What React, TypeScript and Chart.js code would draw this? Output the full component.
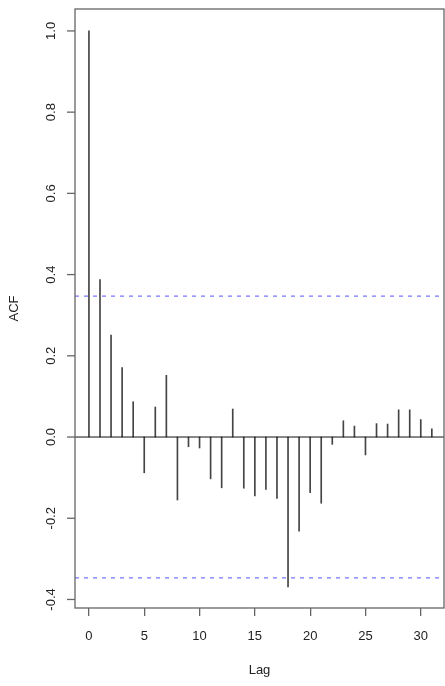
import React, { useEffect, useRef } from "react";
import { Chart, registerables } from "chart.js";

Chart.register(...registerables);

// Autocorrelation at each lag
const lags: number[] = [
  0, 1, 2, 3, 4, 5, 6, 7, 8, 9, 10, 11, 12, 13, 14, 15,
  16, 17, 18, 19, 20, 21, 22, 23, 24, 25, 26, 27, 28, 29, 30, 31,
];
const acf: number[] = [
  1.0, 0.388, 0.251, 0.171, 0.087, -0.088, 0.074, 0.152,
  -0.155, -0.024, -0.027, -0.103, -0.125, 0.069, -0.126, -0.145,
  -0.129, -0.151, -0.369, -0.232, -0.137, -0.163, -0.018, 0.04,
  0.027, -0.044, 0.033, 0.032, 0.067, 0.067, 0.043, 0.02,
];
// 95% confidence bound
const ciBound = 0.347;

const xTicks: number[] = [0, 5, 10, 15, 20, 25, 30];
const yTicks: number[] = [-0.4, -0.2, 0.0, 0.2, 0.4, 0.6, 0.8, 1.0];

const X_MIN = -1.26;
const X_MAX = 32.1;
const Y_MIN = -0.421;
const Y_MAX = 1.054;

const FONT = "'Liberation Sans', Arial, Helvetica, sans-serif";

const boxAndLabels = {
  id: "boxAndLabels",
  afterDraw(chart: any) {
    const { ctx, chartArea, scales } = chart;
    ctx.save();
    ctx.strokeStyle = "#666";
    ctx.lineWidth = 1.3;
    ctx.strokeRect(
      chartArea.left,
      chartArea.top,
      chartArea.right - chartArea.left,
      chartArea.bottom - chartArea.top
    );
    // tick marks and vertical tick labels on the ACF axis
    const y = scales.y;
    ctx.fillStyle = "#222";
    ctx.font = `13px ${FONT}`;
    ctx.textAlign = "center";
    ctx.textBaseline = "middle";
    for (const v of yTicks) {
      const py = y.getPixelForValue(v);
      ctx.beginPath();
      ctx.moveTo(chartArea.left - 8, py);
      ctx.lineTo(chartArea.left, py);
      ctx.stroke();
      ctx.save();
      ctx.translate(51, py);
      ctx.rotate(-Math.PI / 2);
      ctx.fillText(v.toFixed(1), 0, 0);
      ctx.restore();
    }
    ctx.restore();
  },
};

export default function App() {
  const canvasRef = useRef<HTMLCanvasElement | null>(null);

  useEffect(() => {
    if (!canvasRef.current) return;
    const hline = (v: number) => [
      { x: X_MIN, y: v },
      { x: X_MAX, y: v },
    ];
    const chart = new Chart(canvasRef.current, {
      type: "bar",
      data: {
        datasets: [
          {
            type: "bar",
            data: lags.map((l, i) => ({ x: l, y: acf[i] })),
            backgroundColor: "#444",
            borderWidth: 0,
            barThickness: 1,
            order: 2,
          } as any,
          {
            type: "line",
            data: hline(0),
            borderColor: "#111",
            borderWidth: 1,
            pointRadius: 0,
            order: 1,
          } as any,
          {
            type: "line",
            data: hline(ciBound),
            borderColor: "rgba(60,60,255,0.7)",
            borderWidth: 1.2,
            borderDash: [4, 5],
            pointRadius: 0,
            order: 1,
          } as any,
          {
            type: "line",
            data: hline(-ciBound),
            borderColor: "rgba(60,60,255,0.7)",
            borderWidth: 1.2,
            borderDash: [4, 5],
            pointRadius: 0,
            order: 1,
          } as any,
        ],
      },
      options: {
        responsive: false,
        animation: false,
        layout: { padding: { left: 0, top: 9, right: 1, bottom: 0 } },
        plugins: {
          legend: { display: false },
          tooltip: { enabled: false },
        },
        scales: {
          x: {
            type: "linear",
            min: X_MIN,
            max: X_MAX,
            offset: false,
            afterBuildTicks: (s: any) => {
              s.ticks = xTicks.map((v) => ({ value: v }));
            },
            afterFit: (s: any) => {
              s.height = 78;
            },
            grid: {
              offset: false,
              drawOnChartArea: false,
              drawTicks: true,
              tickLength: 8,
              color: "#666",
              lineWidth: 1.3,
            },
            border: { display: false },
            ticks: {
              color: "#222",
              font: { family: FONT, size: 13 },
              padding: 13,
              maxRotation: 0,
              autoSkip: false,
              callback: (v: any) => String(v),
            },
            title: {
              display: true,
              text: "Lag",
              color: "#222",
              font: { family: FONT, size: 13 },
              padding: { top: 0, bottom: 8 },
            },
          },
          y: {
            type: "linear",
            min: Y_MIN,
            max: Y_MAX,
            afterBuildTicks: (s: any) => {
              s.ticks = yTicks.map((v) => ({ value: v }));
            },
            afterFit: (s: any) => {
              s.width = 75;
            },
            grid: { display: false },
            border: { display: false },
            ticks: { display: false },
            title: {
              display: true,
              text: "ACF",
              color: "#222",
              font: { family: FONT, size: 13 },
              padding: { top: 7, bottom: 0 },
            },
          },
        },
      },
      plugins: [boxAndLabels],
    });
    return () => chart.destroy();
  }, []);

  return (
    <div style={{ position: "fixed", left: 0, top: 0, width: 445, height: 686, background: "#fff" }}>
      <canvas ref={canvasRef} width={445} height={686} />
    </div>
  );
}
